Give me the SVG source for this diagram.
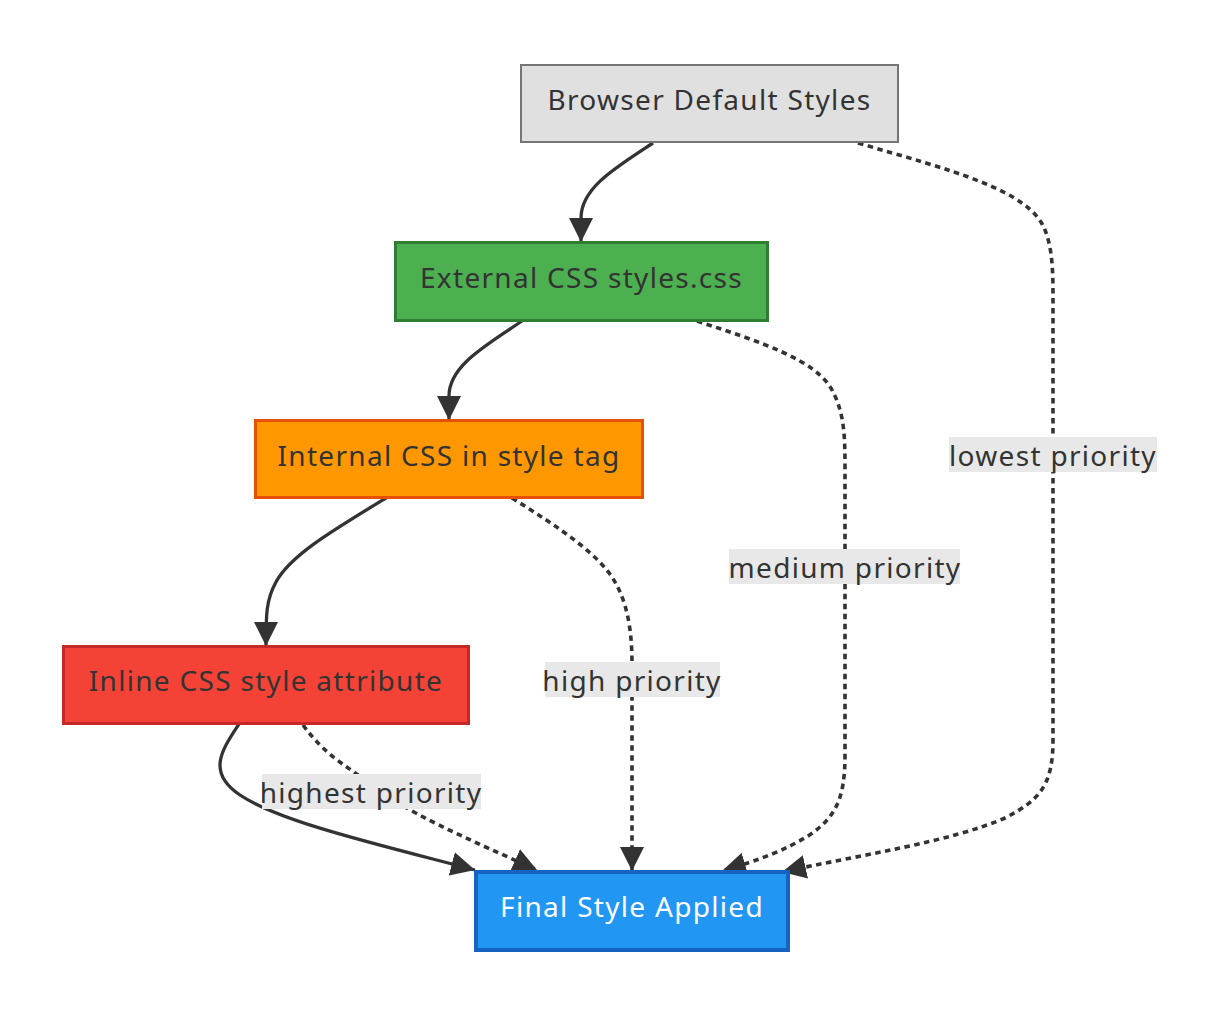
<svg xmlns="http://www.w3.org/2000/svg" width="1228" height="1014" viewBox="0 0 1228 1014">
<style>
text{font-family:"Noto Sans","Open Sans",sans-serif;font-size:28px;letter-spacing:1.3px;fill:#333;text-anchor:middle;dominant-baseline:central}
.e{fill:none;stroke:#333;stroke-width:3.3}
.d{stroke-dasharray:5.5 4.5;stroke-width:3.6}
.lb{fill:#e8e8e8}
</style>
<defs>
<marker id="a" viewBox="0 0 10 10" refX="10" refY="5" markerWidth="24" markerHeight="24" markerUnits="userSpaceOnUse" orient="auto">
<path d="M0,0 L10,5 L0,10 z" fill="#333"/>
</marker>
</defs>
<rect width="1228" height="1014" fill="#fff"/>
<g id="edges">
<path class="e" d="M653,143 C615,168 581,188 581,218 L581,242" marker-end="url(#a)"/>
<path class="e" d="M522,321 C485,346 449,366 449,396 L449,420" marker-end="url(#a)"/>
<path class="e" d="M386,498 C330,532 290,556 276,582 C266,600 266,615 266,646" marker-end="url(#a)"/>
<path class="e" d="M239,724 C222,750 206,772 240,795 C280,822 380,845 475,870" marker-end="url(#a)"/>
<path class="e d" d="M303,725 C325,755 345,765 365,780 C400,810 470,840 537,870" marker-end="url(#a)"/>
<path class="e d" d="M512,498 C560,528 600,555 615,582 C630,608 632,640 632,665 L632,871" marker-end="url(#a)"/>
<path class="e d" d="M697,321 C760,342 818,360 833,392 C845,415 845,440 845,470 L845,755 C845,800 835,818 808,836 C785,850 760,860 722,871" marker-end="url(#a)"/>
<path class="e d" d="M858,143 C950,170 1030,190 1045,230 C1053,250 1053,275 1053,300 L1053,740 C1053,785 1040,800 1005,818 C950,842 860,855 782,872" marker-end="url(#a)"/>
</g>
<g id="label-lowest"><rect class="lb" x="949" y="437" width="208" height="35"/><text x="1053" y="455">lowest priority</text></g>
<g id="label-medium"><rect class="lb" x="729" y="549" width="231" height="35"/><text x="845" y="567">medium priority</text></g>
<g id="label-high"><rect class="lb" x="545" y="662" width="175" height="35"/><text x="632" y="680">high priority</text></g>
<g id="label-highest"><rect class="lb" x="262" y="774" width="219" height="35"/><text x="371" y="792">highest priority</text></g>
<g id="browser"><rect x="521" y="65" width="377" height="77" fill="#e0e0e0" stroke="#757575" stroke-width="2"/><text x="709.5" y="99">Browser Default Styles</text></g>
<g id="external"><rect x="395.5" y="242.5" width="372" height="78" fill="#4caf50" stroke="#2e7d32" stroke-width="3"/><text x="581.5" y="277">External CSS styles.css</text></g>
<g id="internal"><rect x="255.5" y="420.5" width="387" height="77" fill="#ff9800" stroke="#e65100" stroke-width="3"/><text x="449" y="455">Internal CSS in style tag</text></g>
<g id="inline"><rect x="63.5" y="646.5" width="405" height="77" fill="#f44336" stroke="#c62828" stroke-width="3"/><text x="266" y="680">Inline CSS style attribute</text></g>
<g id="final"><rect x="476" y="872" width="312" height="78" fill="#2196f3" stroke="#1565c0" stroke-width="4"/><text x="632" y="906" style="fill:#fff">Final Style Applied</text></g>
</svg>
